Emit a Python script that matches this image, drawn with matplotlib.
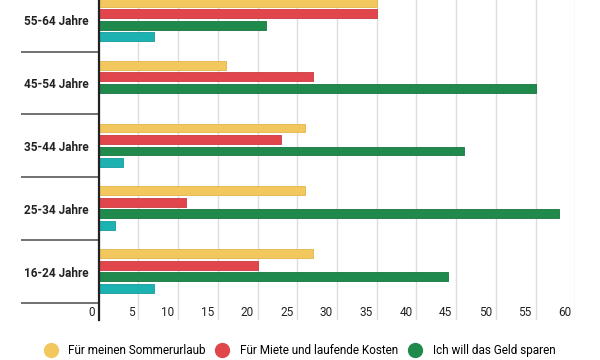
import matplotlib
matplotlib.use("Agg")
import matplotlib.pyplot as plt
from matplotlib.lines import Line2D
import matplotlib.transforms as mtransforms
import numpy as np

plt.rcParams['font.family'] = ['Roboto', 'DejaVu Sans']

groups = ["16-24 Jahre", "25-34 Jahre", "35-44 Jahre", "45-54 Jahre", "55-64 Jahre"]
series_names = ["Für meinen Sommerurlaub", "Für Miete und laufende Kosten",
                "Ich will das Geld sparen", "Sonstiges"]
urlaub = [27, 26, 26, 16, 35]
miete = [20, 11, 23, 27, 35]
sparen = [44, 58, 46, 55, 21]
sonstiges = [7, 2, 3, 0, 7]
xticks = [0, 5, 10, 15, 20, 25, 30, 35, 40, 45, 50, 55, 60]

colors = ["#F2C85E", "#E0464C", "#1F8A4C", "#1CB2B2"]
edges = ["#E3B54A", "#C93A40", "#17733D", "#169A9A"]

fig = plt.figure(figsize=(6, 3.6), dpi=100)
ax = fig.add_axes([98.7 / 600, 40 / 360, (575.3 - 98.7) / 600, 320 / 360])

y = np.arange(len(groups))
pitch = 0.183
height = 0.14
all_series = [urlaub, miete, sparen, sonstiges]
for i, (vals, c, e) in enumerate(zip(all_series, colors, edges)):
    ax.barh(y + (1.5 - i) * pitch + 0.01, vals, height=height, color=c,
            edgecolor=e, linewidth=0.6, zorder=3)

# grid
ax.set_xticks(xticks)
ax.set_xticklabels([])
ax.tick_params(axis='x', length=0)
ax.grid(axis='x', color='#dddddd', linewidth=1, zorder=0)
ax.set_axisbelow(True)

# y labels and separators
ax.set_yticks(y)
ax.set_yticklabels(groups, fontsize=8.5, fontweight='bold', color='#222222')
ax.tick_params(axis='y', which='major', length=0, pad=7.5)
ax.set_yticks(np.arange(-0.5, len(groups), 1.0), minor=True)
ax.tick_params(axis='y', which='minor', length=56, width=1.3, color='#666666',
               direction='out')

ax.set_xlim(0, 60)
ax.set_ylim(-0.77, 4.32)
ax.margins(0)

for s in ['top', 'right', 'bottom']:
    ax.spines[s].set_visible(False)
ax.spines['left'].set_color('#222222')
ax.spines['left'].set_linewidth(1.6)
ax.spines['left'].set_zorder(4)

# tick labels inside bottom area, right-aligned to grid lines
offset = mtransforms.ScaledTranslation(-4 / 100, 0, fig.dpi_scale_trans)
trans = mtransforms.blended_transform_factory(ax.transData, ax.transAxes) + offset
for t in xticks:
    ax.text(t, 0.022, str(t), transform=trans, ha='right', va='center',
            fontsize=8.5, color='#222222')

handles = [Line2D([0], [0], marker='o', linestyle='none', markersize=10,
                  markerfacecolor=c, markeredgecolor=c) for c in colors[:3]]
fig.legend(handles, series_names[:3], loc='center', bbox_to_anchor=(0.5, 0.027),
           ncol=3, frameon=False, fontsize=8.5, handletextpad=1.0,
           columnspacing=0.9, handlelength=1.0)

fig.savefig("out.png", dpi=100)
